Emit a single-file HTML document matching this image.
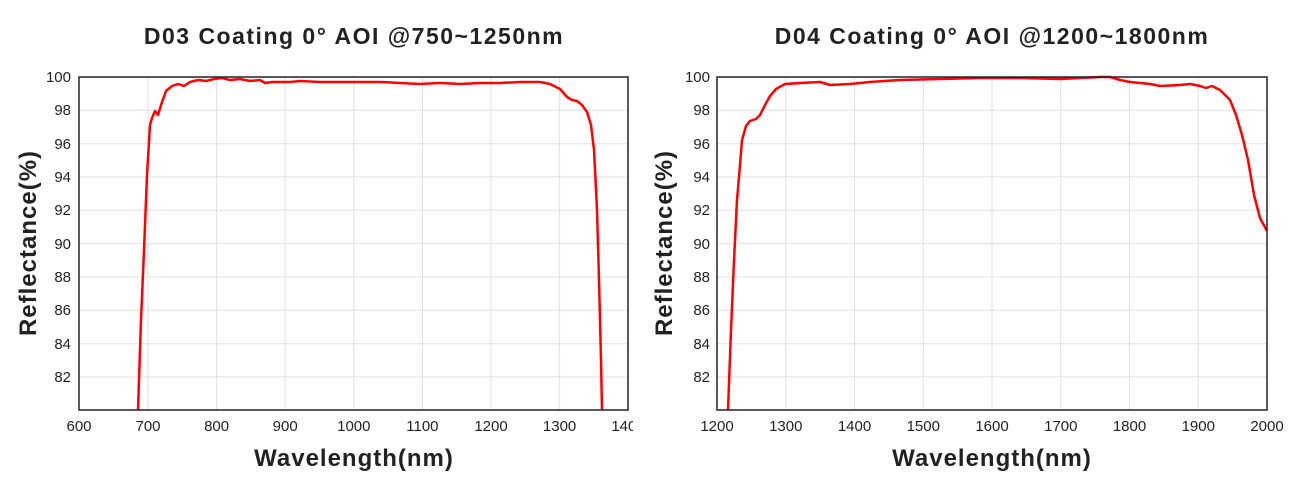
<!DOCTYPE html>
<html><head><meta charset="utf-8"><style>
body{margin:0;background:#fff;}
svg{display:block;font-family:"Liberation Sans",sans-serif;}
</style></head><body>
<svg width="1300" height="488" viewBox="0 0 1300 488">
<defs>
<clipPath id="c1"><rect x="0" y="0" width="633" height="488"/></clipPath>
</defs>
<g stroke="#e0e0e0" stroke-width="1">
<line x1="148" y1="77" x2="148" y2="410"/><line x1="216.6" y1="77" x2="216.6" y2="410"/><line x1="285.2" y1="77" x2="285.2" y2="410"/><line x1="353.8" y1="77" x2="353.8" y2="410"/><line x1="422.4" y1="77" x2="422.4" y2="410"/><line x1="491" y1="77" x2="491" y2="410"/><line x1="559.6" y1="77" x2="559.6" y2="410"/>
<line x1="79" y1="110.3" x2="628" y2="110.3"/><line x1="79" y1="143.7" x2="628" y2="143.7"/><line x1="79" y1="177" x2="628" y2="177"/><line x1="79" y1="210.3" x2="628" y2="210.3"/><line x1="79" y1="243.7" x2="628" y2="243.7"/><line x1="79" y1="277" x2="628" y2="277"/><line x1="79" y1="310.3" x2="628" y2="310.3"/><line x1="79" y1="343.7" x2="628" y2="343.7"/><line x1="79" y1="377" x2="628" y2="377"/>
<line x1="785.75" y1="77" x2="785.75" y2="410"/><line x1="854.5" y1="77" x2="854.5" y2="410"/><line x1="923.25" y1="77" x2="923.25" y2="410"/><line x1="992" y1="77" x2="992" y2="410"/><line x1="1060.75" y1="77" x2="1060.75" y2="410"/><line x1="1129.5" y1="77" x2="1129.5" y2="410"/><line x1="1198.25" y1="77" x2="1198.25" y2="410"/>
<line x1="717" y1="110.3" x2="1267" y2="110.3"/><line x1="717" y1="143.7" x2="1267" y2="143.7"/><line x1="717" y1="177" x2="1267" y2="177"/><line x1="717" y1="210.3" x2="1267" y2="210.3"/><line x1="717" y1="243.7" x2="1267" y2="243.7"/><line x1="717" y1="277" x2="1267" y2="277"/><line x1="717" y1="310.3" x2="1267" y2="310.3"/><line x1="717" y1="343.7" x2="1267" y2="343.7"/><line x1="717" y1="377" x2="1267" y2="377"/>
</g>
<polyline fill="none" stroke="#ff0000" stroke-width="2.5" stroke-linejoin="round" points="138,410 141,320 144,250 147,175 150,125 152,118 155,111 158,115 162,102 166,91 172,86 178,84 184,86 190,82 198,80 206,81 214,79 222,78 230,80 240,79 250,81 260,80 265,83 272,82 280,82 290,82 300,81 320,82 340,82 360,82 380,82 400,83 420,84 440,83 460,84 480,83 500,83 520,82 540,82 550,84 560,89 567,97 572,100 577,101 582,105 587,112 591,125 594,150 597,210 599,280 601,360 602,410"/>
<polyline fill="none" stroke="#ff0000" stroke-width="2.5" stroke-linejoin="round" points="728,410 731,330 734,260 737,200 740,165 742,140 746,126 750,121 756,119 760,115 765,105 770,96 776,89 785,84 800,83 820,82 830,85 850,84 870,82 900,80 940,79 980,78 1020,78 1060,79 1080,78 1100,77 1110,77 1120,80 1130,82 1150,84 1160,86 1180,85 1190,84 1200,86 1206,88 1212,86 1220,90 1226,96 1230,100 1236,115 1242,135 1248,160 1254,195 1260,218 1267,231"/>
<rect x="79" y="77" width="549" height="333" fill="none" stroke="#222" stroke-width="1.5"/>
<rect x="717" y="77" width="550" height="333" fill="none" stroke="#222" stroke-width="1.5"/>
<g font-size="15" fill="#222" text-anchor="end">
<text x="71" y="82">100</text><text x="71" y="115">98</text><text x="71" y="149">96</text><text x="71" y="182">94</text><text x="71" y="215">92</text><text x="71" y="249">90</text><text x="71" y="282">88</text><text x="71" y="315">86</text><text x="71" y="349">84</text><text x="71" y="382">82</text>
<text x="710" y="82">100</text><text x="710" y="115">98</text><text x="710" y="149">96</text><text x="710" y="182">94</text><text x="710" y="215">92</text><text x="710" y="249">90</text><text x="710" y="282">88</text><text x="710" y="315">86</text><text x="710" y="349">84</text><text x="710" y="382">82</text>
</g>
<g font-size="15" fill="#222" text-anchor="middle">
<g clip-path="url(#c1)">
<text x="79" y="431">600</text><text x="148" y="431">700</text><text x="216.6" y="431">800</text><text x="285.2" y="431">900</text><text x="353.8" y="431">1000</text><text x="422.4" y="431">1100</text><text x="491" y="431">1200</text><text x="559.6" y="431">1300</text><text x="628" y="431">1400</text>
</g>
<text x="717" y="431">1200</text><text x="785.75" y="431">1300</text><text x="854.5" y="431">1400</text><text x="923.25" y="431">1500</text><text x="992" y="431">1600</text><text x="1060.75" y="431">1700</text><text x="1129.5" y="431">1800</text><text x="1198.25" y="431">1900</text><text x="1267" y="431">2000</text>
</g>
<g font-weight="bold" fill="#222" text-anchor="middle">
<text x="354" y="44" font-size="23" letter-spacing="1.5">D03 Coating 0° AOI @750~1250nm</text>
<text x="992" y="44" font-size="23" letter-spacing="1.5">D04 Coating 0° AOI @1200~1800nm</text>
<text x="354" y="466" font-size="24" letter-spacing="1">Wavelength(nm)</text>
<text x="992" y="466" font-size="24" letter-spacing="1">Wavelength(nm)</text>
<text transform="translate(36,243) rotate(-90)" font-size="24" letter-spacing="1">Reflectance(%)</text>
<text transform="translate(672,243) rotate(-90)" font-size="24" letter-spacing="1">Reflectance(%)</text>
</g>
</svg>
</body></html>
